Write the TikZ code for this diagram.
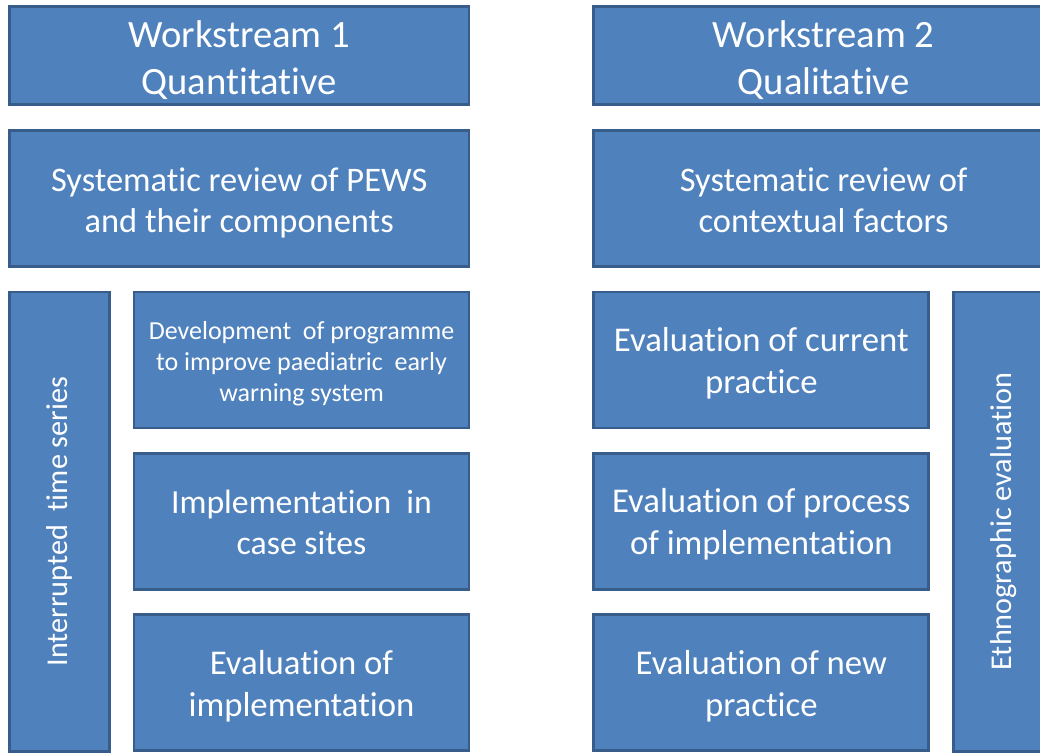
\documentclass[tikz,border=0pt]{standalone}
\usepackage{fontspec}
\setmainfont[Ligatures=NoCommon]{Carlito}
\usepackage{graphicx}
\usepackage{xcolor}
\usepackage{tikz}
\usetikzlibrary{positioning}
\definecolor{boxfill}{HTML}{4F81BD}
\definecolor{boxline}{HTML}{385D8A}
\tikzstyle{box} = [rectangle, draw=boxline, fill=boxfill, line width=2pt, text=white, text centered, align=center, inner sep=0pt]
\tikzstyle{header} = [box, minimum width=11.49cm, minimum height=2.45cm, text height=1.95cm, text depth=0pt, font=\fontsize{27.5}{33.4}\selectfont]
\tikzstyle{review} = [box, minimum width=11.49cm, minimum height=3.4cm, text height=1.7cm, text depth=0pt, font=\fontsize{24.5}{29}\selectfont]
\tikzstyle{stage} = [box, minimum width=8.375cm, minimum height=3.4cm, text height=1.68cm, text depth=0pt, font=\fontsize{24.7}{30}\selectfont]
\tikzstyle{sidebar} = [box, minimum width=2.5cm, minimum height=11.48cm, font=\fontsize{21.5}{26}\selectfont]

\begin{document}
\begin{tikzpicture}[node distance=0.575cm]
        \useasboundingbox (0,0) rectangle (26,-18.825);
        \clip (0,0) rectangle (26,-18.825);
        % workstream 1
        \node (ws1) [header, anchor=north west] at (0.2,-0.125) {Workstream 1\\Quantitative};
        \node (rev1) [review, below=of ws1] {Systematic review of PEWS\\and their components};
        \node (its) [sidebar, below=of rev1.south west, anchor=north west] {\rotatebox{90}{Interrupted\ \ time series}};
        \node (dev) [stage, below=of rev1.south east, anchor=north east, text height=2.05cm, font=\fontsize{18.5}{22}\selectfont] {Development\ \ of programme\\to improve paediatric\ \ early\\warning system};
        \node (impl) [stage, below=0.5625cm of dev, font=\fontsize{24}{29.5}\selectfont] {Implementation\ \ in\\case sites};
        \node (evimp) [stage, below=0.5625cm of impl] {Evaluation of\\implementation};

        % workstream 2
        \node (ws2) [header, right=3.05cm of ws1] {Workstream 2\\Qualitative};
        \node (rev2) [review, below=of ws2] {Systematic review of\\contextual factors};
        \node (evcur) [stage, below=of rev2.south west, anchor=north west] {Evaluation of current\\practice};
        \node (evproc) [stage, below=0.5625cm of evcur] {Evaluation of process\\of implementation};
        \node (evnew) [stage, below=0.5625cm of evproc] {Evaluation of new\\practice};
        \node (ethno) [sidebar, below=of rev2.south east, anchor=north east] {\rotatebox{90}{Ethnographic evaluation}};
    \end{tikzpicture}
\end{document}
